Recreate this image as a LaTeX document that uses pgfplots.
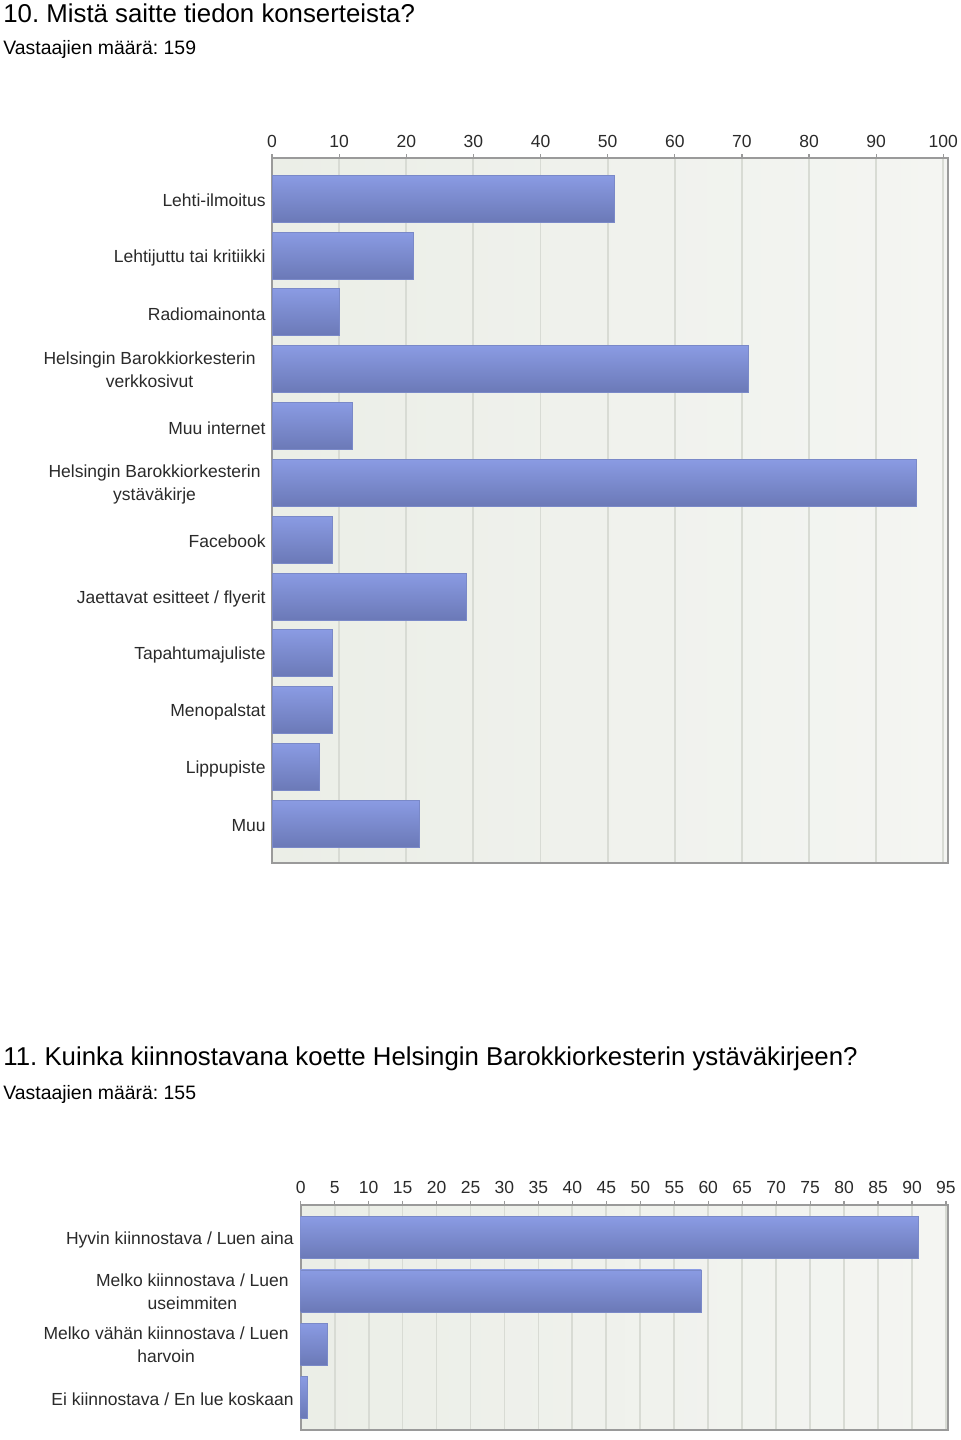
\documentclass[border=0pt]{standalone}
\usepackage{fontspec}
\setmainfont{Liberation Sans}
\usepackage{pgfplots}
\pgfplotsset{compat=1.18}
\frenchspacing

\definecolor{bartop}{HTML}{8A9BE3}
\definecolor{barbot}{HTML}{6B79B7}
\definecolor{baredge}{HTML}{7A89C8}
\definecolor{bgl}{HTML}{EBEEE7}
\definecolor{bgr}{HTML}{F4F5F2}
\definecolor{gridgray}{HTML}{D8DBD4}
\definecolor{axisgray}{HTML}{9A9A9A}
\definecolor{labelgray}{HTML}{2A2A2A}

% two-line category label, #1 = extra room on the right
\newcommand\two[3][5pt]{\begin{tabular}{@{}c@{\hspace{#1}}}#2\\#3\end{tabular}}

\pgfplotsset{
  chart/.style={
    scale only axis, anchor=south west,
    xbar, bar shift=0pt, y dir=reverse, xmin=0,
    axis background/.style={left color=bgl, right color=bgr},
    axis line style={draw=axisgray, line width=1pt},
    xmajorgrids, grid style={draw=gridgray, line width=0.9pt},
    xtick pos=right, xticklabel pos=right,
    tick align=outside, major tick length=2pt,
    xtick style={draw=axisgray, line width=0.6pt},
    ytick=data, ytick style={draw=none},
    tick label style={font=\fontsize{8.75}{11.5}\selectfont, text=labelgray},
    /pgf/number format/assume math mode=true,
    yticklabel style={align=center, inner xsep=1pt, yshift=-1pt},
  },
  % one plot per bar, so that each bar gets its own shading
  bars/.style={top color=bartop, bottom color=barbot, draw=baredge, line width=0.4pt},
}

\begin{document}
\begin{tikzpicture}
\useasboundingbox (0,0) rectangle (480pt,720pt);

\node[anchor=west, inner sep=0pt, font=\fontsize{12.9}{15}\selectfont] at (1.5pt,713.5pt)
  {10. Mistä saitte tiedon konserteista?};
\node[anchor=west, inner sep=0pt, font=\fontsize{9.7}{12}\selectfont] at (1.5pt,695pt)
  {Vastaajien määrä: 159};

\begin{axis}[chart,
  at={(136pt,288.5pt)}, width=338pt, height=352.3pt,
  xmax=100.7, ymin=-0.71, ymax=11.69,
  xtick={0,10,...,100}, bar width=23.5pt,
  ytick={0,...,11},
  yticklabels={Lehti-ilmoitus, Lehtijuttu tai kritiikki, Radiomainonta,
    \two{Helsingin Barokkiorkesterin}{verkkosivut}, Muu internet,
    \two[2.5pt]{Helsingin Barokkiorkesterin}{ystäväkirje}, Facebook,
    Jaettavat esitteet / flyerit, Tapahtumajuliste, Menopalstat,
    Lippupiste, Muu},
]
\addplot[bars] coordinates {(51,0)};
\addplot[bars] coordinates {(21,1)};
\addplot[bars] coordinates {(10,2)};
\addplot[bars] coordinates {(71,3)};
\addplot[bars] coordinates {(12,4)};
\addplot[bars] coordinates {(96,5)};
\addplot[bars] coordinates {(9,6)};
\addplot[bars] coordinates {(29,7)};
\addplot[bars] coordinates {(9,8)};
\addplot[bars] coordinates {(9,9)};
\addplot[bars] coordinates {(7,10)};
\addplot[bars] coordinates {(22,11)};
\end{axis}

\node[anchor=west, inner sep=0pt, font=\fontsize{12.9}{15}\selectfont] at (1.5pt,190.5pt)
  {11. Kuinka kiinnostavana koette Helsingin Barokkiorkesterin ystäväkirjeen?};
\node[anchor=west, inner sep=0pt, font=\fontsize{9.7}{12}\selectfont] at (1.5pt,173pt)
  {Vastaajien määrä: 155};

\begin{axis}[chart,
  at={(150.35pt,5pt)}, width=323.65pt, height=112.5pt,
  xmax=95.3, ymin=-0.62, ymax=3.62,
  xtick={0,5,...,95}, bar width=21pt,
  ytick={0,...,3},
  yticklabel style={inner xsep=1.3pt},
  yticklabels={Hyvin kiinnostava / Luen aina,
    \two[2.5pt]{Melko kiinnostava / Luen}{useimmiten},
    \two[2.5pt]{Melko vähän kiinnostava / Luen}{harvoin},
    Ei kiinnostava / En lue koskaan},
]
\addplot[bars] coordinates {(91,0)};
\addplot[bars] coordinates {(59,1)};
\addplot[bars] coordinates {(4,2)};
\addplot[bars] coordinates {(1,3)};
\end{axis}
\end{tikzpicture}
\end{document}
